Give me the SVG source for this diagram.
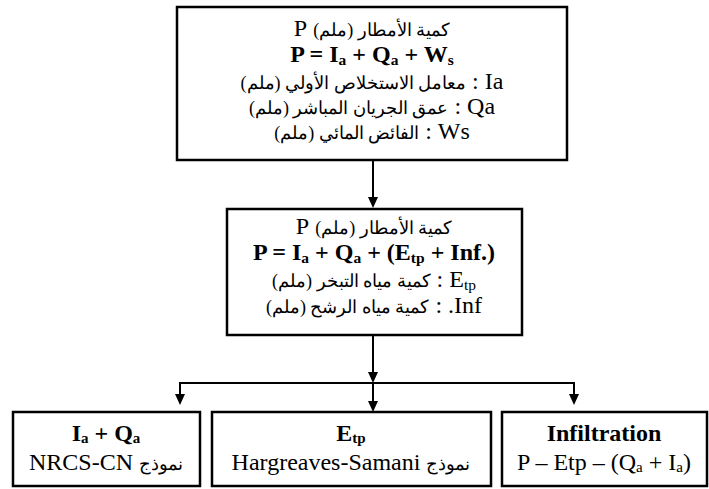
<svg xmlns="http://www.w3.org/2000/svg" width="709" height="489" viewBox="0 0 709 489">
<defs>
<style>
.box{fill:#fff;stroke:#000;stroke-width:2.5}
.t{font-size:24px;fill:#000;text-anchor:middle}
.b{font-weight:bold}
.rtl{direction:rtl;unicode-bidi:embed}
.ar{font-size:18px}
.sub{font-size:15.5px;baseline-shift:-3px}
.sb{font-size:15px;baseline-shift:-2px}
.c{fill:none;stroke:#000;stroke-width:2}
</style>
</defs>
<rect width="709" height="489" fill="#fff"/>
<g id="connectors">
<path class="c" d="M373,160 V198"/>
<path d="M368,197 L378,197 L373,208 Z"/>
<path class="c" d="M373,335 V372"/>
<path d="M368,372 L378,372 L373,383 Z"/>
<path class="c" d="M180,395 V383 H574 V395"/>
<path d="M175,394 L185,394 L180,405 Z"/>
<path d="M569,394 L579,394 L574,405 Z"/>
<path class="c" d="M373,383 V401"/>
<path d="M368,401 L378,401 L373,412 Z"/>
</g>
<g font-family="Liberation Serif, Times New Roman, DejaVu Serif, serif">
<g id="n1">
<rect class="box" x="177" y="7" width="390" height="153"/>
<text class="t rtl" x="372" y="36"><tspan class="ar">كمية الأمطار (ملم)</tspan> P</text>
<text class="t b" x="372" y="62">P = I<tspan class="sub">a</tspan> + Q<tspan class="sub">a</tspan> + W<tspan class="sub">s</tspan></text>
<text class="t rtl" x="372" y="89">Ia : <tspan class="ar">معامل الاستخلاص الأولي (ملم)</tspan></text>
<text class="t rtl" x="372" y="114">Qa : <tspan class="ar">عمق الجريان المباشر (ملم)</tspan></text>
<text class="t rtl" x="372" y="139">Ws : <tspan class="ar">الفائض المائي (ملم)</tspan></text>
</g>
<g id="n2">
<rect class="box" x="227" y="209" width="295" height="126"/>
<text class="t rtl" x="374" y="234"><tspan class="ar">كمية الأمطار (ملم)</tspan> P</text>
<text class="t b" x="374" y="260">P = I<tspan class="sub">a</tspan> + Q<tspan class="sub">a</tspan> + (E<tspan class="sub">tp</tspan> + Inf.)</text>
<text class="t rtl" x="374" y="287">E<tspan class="sub">tp</tspan> : <tspan class="ar">كمية مياه التبخر (ملم)</tspan></text>
<text class="t rtl" x="374" y="313">Inf. : <tspan class="ar">كمية مياه الرشح (ملم)</tspan></text>
</g>
<g id="n3">
<rect class="box" x="13" y="412" width="187" height="74"/>
<text class="t b" x="106" y="441">I<tspan class="sb">a</tspan> + Q<tspan class="sb">a</tspan></text>
<text class="t rtl" x="106" y="470"><tspan class="ar">نموذج</tspan> NRCS-CN</text>
</g>
<g id="n4">
<rect class="box" x="212" y="412" width="279" height="74"/>
<text class="t b" x="351" y="441">E<tspan class="sb">tp</tspan></text>
<text class="t rtl" x="351" y="470"><tspan class="ar">نموذج</tspan> Hargreaves-Samani</text>
</g>
<g id="n5">
<rect class="box" x="502" y="412" width="205" height="74"/>
<text class="t b" x="604" y="441">Infiltration</text>
<text class="t" x="604" y="470">P – Etp – (Q<tspan class="sb">a</tspan> + I<tspan class="sb">a</tspan>)</text>
</g>
</g>
</svg>
